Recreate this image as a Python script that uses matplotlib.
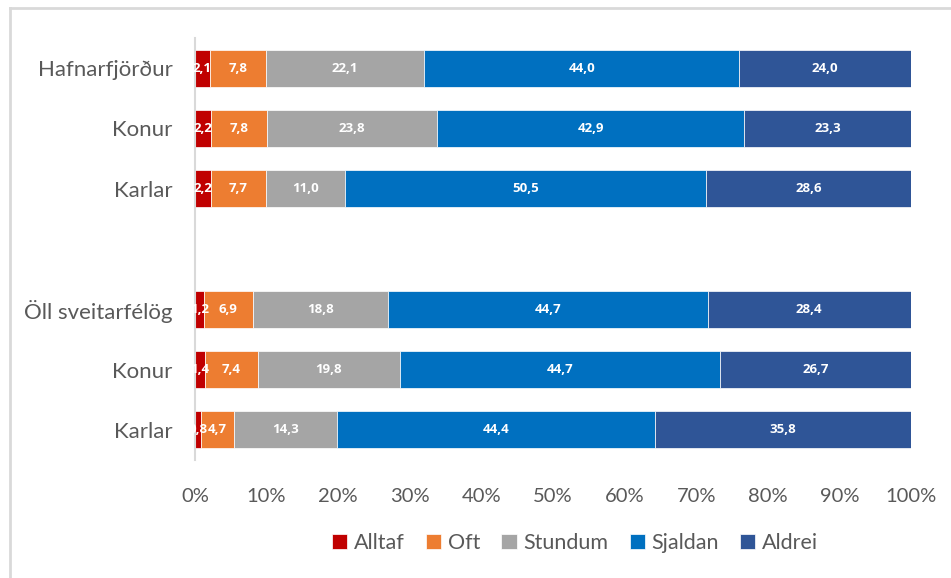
import matplotlib.pyplot as plt
from matplotlib.lines import Line2D
import numpy as np

# Flokkar (ofan frá og niður), tóm röð á milli hópa
categories = ['Hafnarfjörður', 'Konur', 'Karlar', '', 'Öll sveitarfélög', 'Konur', 'Karlar']
series = ['Alltaf', 'Oft', 'Stundum', 'Sjaldan', 'Aldrei']
colors = ['#C00000', '#ED7D31', '#A5A5A5', '#0070C0', '#2F5597']

alltaf = [2.1, 2.2, 2.2, 0, 1.2, 1.4, 0.8]
oft = [7.8, 7.8, 7.7, 0, 6.9, 7.4, 4.7]
stundum = [22.1, 23.8, 11.0, 0, 18.8, 19.8, 14.3]
sjaldan = [44.0, 42.9, 50.5, 0, 44.7, 44.7, 44.4]
aldrei = [24.0, 23.3, 28.6, 0, 28.4, 26.7, 35.8]

xticks = [0, 10, 20, 30, 40, 50, 60, 70, 80, 90, 100]

plt.rcParams['font.family'] = ['Lato', 'DejaVu Sans']

fig = plt.figure(figsize=(9.51, 5.78), dpi=100)
ax = fig.add_axes([195 / 951, 1 - 460 / 578, 716 / 951, 422 / 578])

y = np.arange(len(categories))
left = np.zeros(len(categories))
data = [alltaf, oft, stundum, sjaldan, aldrei]
for name, vals, col in zip(series, data, colors):
    vals = np.array(vals, dtype=float)
    mask = vals > 0
    ax.barh(y[mask], vals[mask], left=left[mask], height=0.61, color=col,
            edgecolor='white', linewidth=0.5, label=name)
    for yi, v, l in zip(y[mask], vals[mask], left[mask]):
        ax.text(l + v / 2, yi, f'{v:.1f}'.replace('.', ','), ha='center', va='center',
                color='white', fontsize=9.5, fontweight='bold',
                family=['Open Sans', 'DejaVu Sans'])
    left = left + vals

ax.set_xlim(0, 100)
ax.set_ylim(6.5, -0.5)
ax.set_yticks(y)
ax.set_yticklabels(categories, fontsize=16, color='#595959')
ax.set_xticks(xticks)
ax.set_xticklabels([f'{t}%' for t in xticks], fontsize=14.5, color='#595959')
ax.tick_params(axis='both', length=0)
ax.tick_params(axis='y', pad=16)
ax.tick_params(axis='x', pad=20)
for s in ['top', 'right', 'bottom']:
    ax.spines[s].set_visible(False)
ax.spines['left'].set_color('#d9d9d9')
ax.spines['left'].set_linewidth(1.5)

ax.legend(loc='center', bbox_to_anchor=(575 / 951, 1 - 543 / 578), bbox_transform=fig.transFigure,
          ncol=5, frameon=False, fontsize=15.5, handlelength=0.7, handleheight=0.7,
          handletextpad=0.3, columnspacing=1.0, labelcolor='#595959')

# Rammi utan um myndina (aðeins vinstri og efri brún sjást)
fig.add_artist(Line2D([10 / 951, 10 / 951], [0, 1 - 8 / 578], transform=fig.transFigure,
                      color='#d9d9d9', linewidth=2))
fig.add_artist(Line2D([10 / 951, 1], [1 - 8 / 578, 1 - 8 / 578], transform=fig.transFigure,
                      color='#d9d9d9', linewidth=2))

plt.savefig('out.png', dpi=100)
plt.close()
